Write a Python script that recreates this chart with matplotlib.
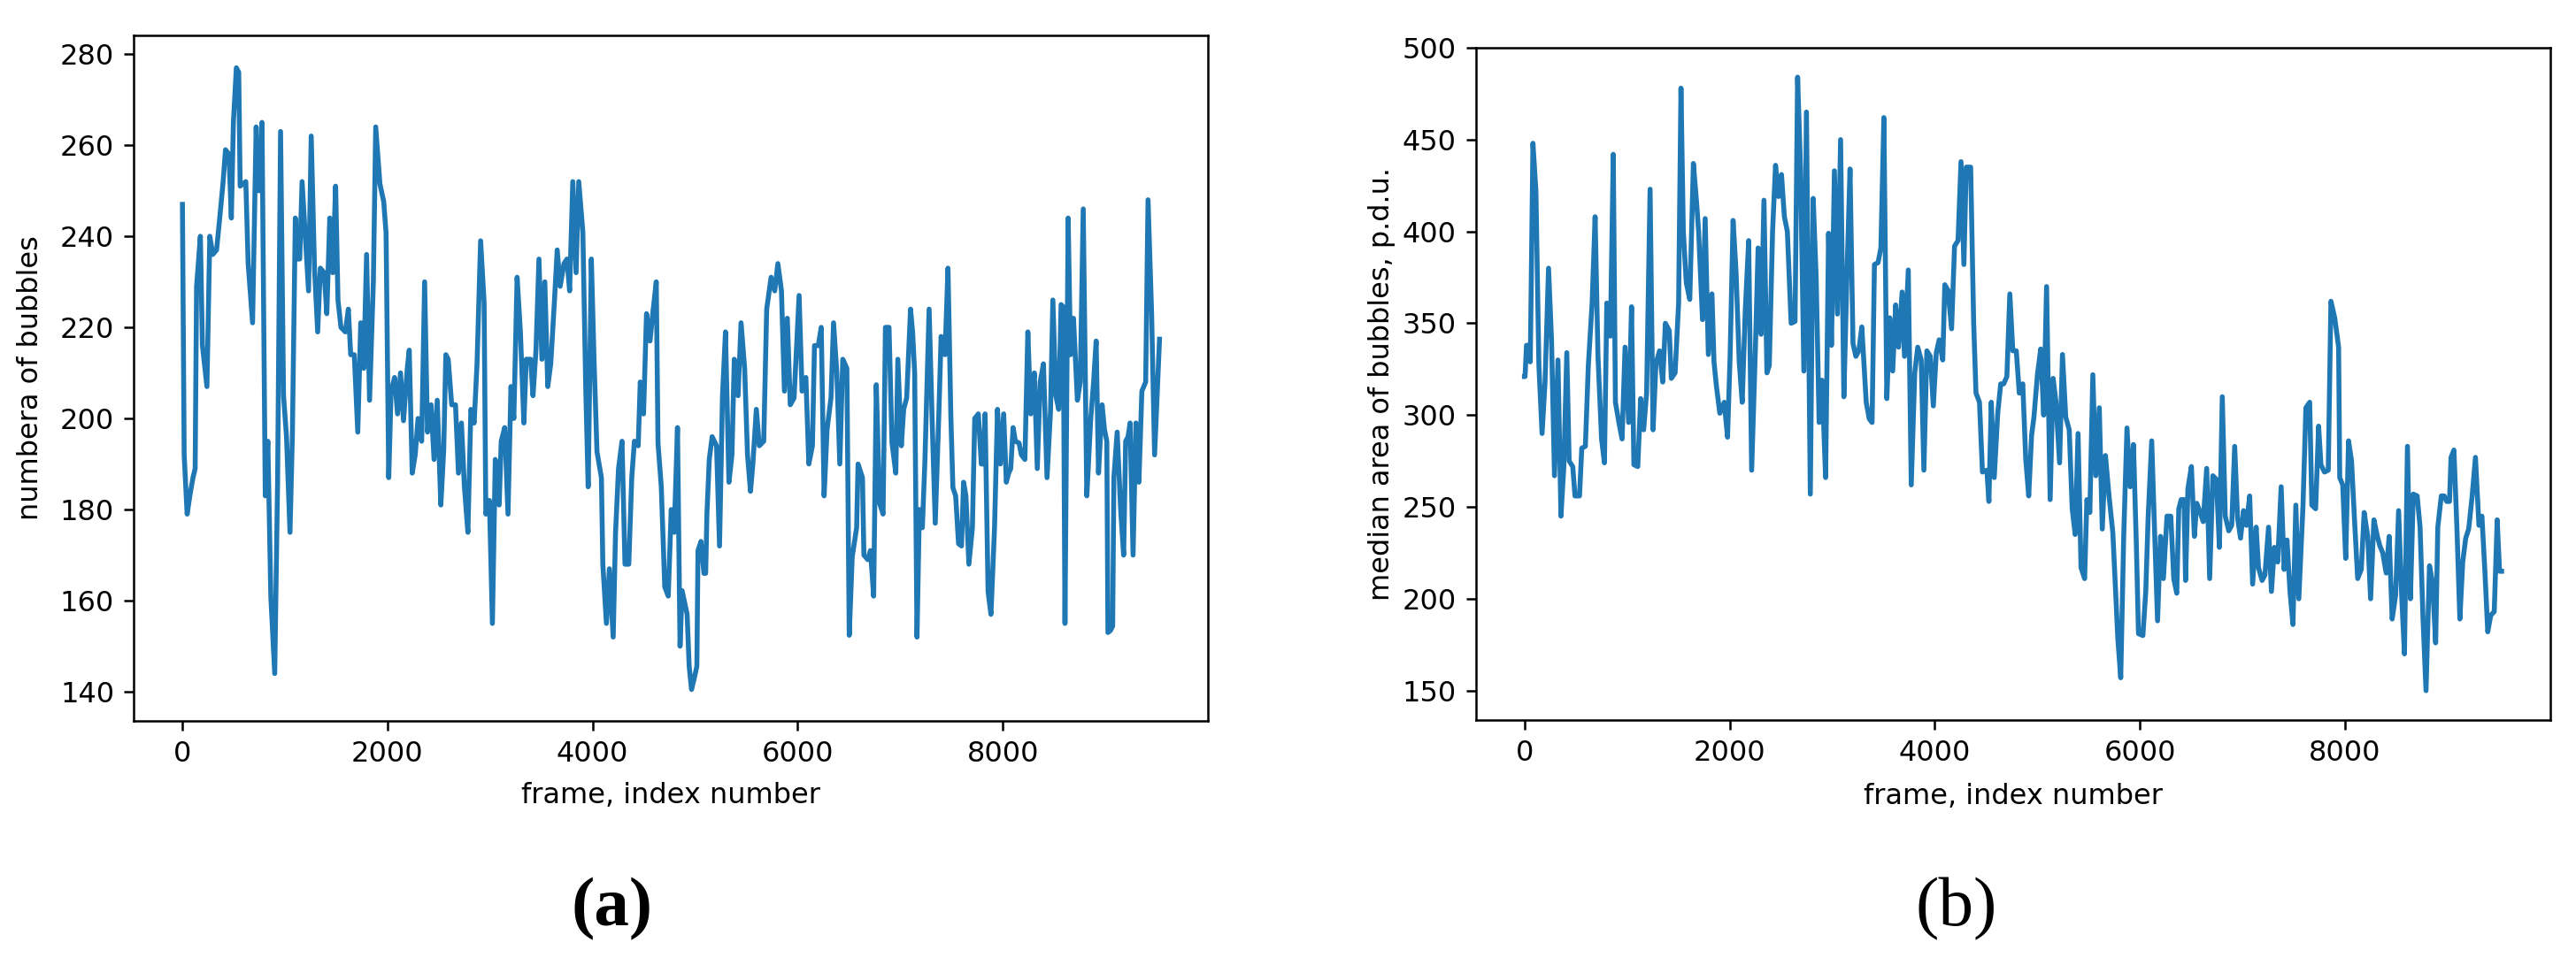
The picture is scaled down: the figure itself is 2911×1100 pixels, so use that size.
import matplotlib
matplotlib.use("Agg")
import matplotlib.pyplot as plt

# ---------------- data ----------------
frames_a = [0, 17, 46, 72, 103, 124, 138, 175, 195, 239, 267, 296, 333, 368, 397, 420, 454, 477, 497, 526,
            549, 563, 618, 641, 684, 719, 742, 756, 776, 808, 833, 862, 900, 928, 957, 986, 1015, 1049, 1072, 1101,
            1124, 1144, 1167, 1193, 1230, 1256, 1288, 1319, 1345, 1382, 1408, 1437, 1466, 1494, 1517, 1546, 1589, 1618, 1641, 1676,
            1710, 1739, 1768, 1796, 1825, 1862, 1885, 1926, 1963, 1986, 2012, 2035, 2069, 2098, 2127, 2156, 2193,
            2212, 2241, 2270, 2298, 2333, 2362, 2390, 2425, 2454, 2485, 2520, 2548, 2569, 2592, 2626, 2663, 2692, 2721, 2750,
            2784, 2813, 2845, 2873, 2908, 2942, 2959, 2994, 3023, 3051, 3089, 3109, 3143, 3175, 3204, 3232, 3264, 3296, 3330,
            3353, 3396, 3419, 3448, 3477, 3506, 3534, 3563, 3592, 3626, 3655, 3684, 3721, 3750, 3776, 3807, 3839, 3865, 3905,
            3934, 3957, 3988, 4014, 4043, 4086, 4100, 4135, 4164, 4201, 4224, 4253, 4287, 4316, 4353, 4382, 4408, 4445, 4465,
            4497, 4526, 4560, 4589, 4621, 4638, 4670, 4704, 4738, 4767, 4796, 4828, 4853,
            4873, 4922, 4942, 4965, 4988, 5017, 5028, 5057, 5086, 5103, 5115, 5138, 5166, 5209, 5238, 5267, 5296, 5330, 5359,
            5382, 5419, 5448, 5483, 5511, 5540, 5563, 5597, 5626, 5669, 5698, 5741, 5776, 5807, 5842, 5871, 5899, 5928, 5965,
            6014, 6043, 6080, 6109, 6144, 6164, 6201, 6230, 6258, 6287, 6325, 6350, 6382, 6411, 6440, 6460, 6480, 6503, 6532,
            6575, 6589, 6632, 6646, 6684, 6710, 6741, 6767, 6799, 6833, 6856, 6891, 6920, 6957, 6977, 7011, 7034, 7063, 7101,
            7121, 7141, 7164, 7187, 7216, 7241, 7282, 7313, 7342, 7379, 7399, 7437, 7466, 7494, 7514,
            7541, 7569, 7598, 7618, 7641, 7670, 7704, 7727, 7762, 7791, 7808, 7828, 7857, 7885, 7920, 7949, 7977, 8009, 8035,
            8058, 8078, 8101, 8124, 8159, 8182, 8216, 8245, 8273, 8308, 8337, 8365, 8397, 8432, 8466, 8489, 8518, 8546, 8569,
            8590, 8607, 8638, 8661, 8690, 8728, 8756, 8785, 8820, 8857, 8886, 8911, 8934, 8969, 8992, 9015, 9026, 9049, 9072,
            9084, 9116, 9150, 9179, 9199, 9222, 9242, 9271, 9299, 9328, 9357, 9394, 9417, 9452, 9481, 9529]

bubble_count = [247, 192, 179, 183, 187, 189, 229, 240, 216, 207, 240, 236, 237, 245, 252, 259, 258, 244, 265, 277,
                276, 251, 252, 234, 221, 264, 250, 250, 265, 183, 195, 161, 144, 186, 263, 205, 196, 175, 196, 244,
                235, 235, 252, 242, 228, 262, 233, 219, 233, 232, 223, 244, 232, 251, 226, 220, 219, 224, 214, 214,
                197, 221, 211, 236, 204, 230, 264, 251.5, 247.6, 240.7, 187, 206, 209, 201, 210, 199.5, 211,
                215, 188, 192, 200, 195, 230, 197, 203, 191, 204, 181, 193, 214, 213, 203, 203, 188, 199, 185,
                175, 202, 199, 212, 239, 225.5, 179, 182, 155, 191, 181, 195, 198, 179, 207, 200, 231, 219, 199,
                213, 213, 205, 215, 235, 213, 230, 207, 212, 225, 237, 229, 234, 235, 228, 252, 232, 252, 241,
                206, 185, 235, 213, 192.7, 187, 168, 155, 167, 152, 175, 189, 195, 168, 168, 187, 195, 194, 208,
                201, 223, 217, 223.5, 230, 194.6, 185, 163, 161, 180, 175, 198, 150,
                162.2, 157, 145.6, 140.5, 142.6, 145.6, 171, 173, 166, 166, 179, 191, 196, 194, 172, 205, 219, 186, 192,
                213, 205, 221, 211, 192, 184, 190, 202, 194, 195, 224, 231, 228, 234, 228, 206, 222, 203, 204.5,
                227, 206, 209, 190, 194, 216, 216, 220, 183, 197.6, 204.5, 221, 210, 190, 213, 212, 211, 152.4, 169.6,
                176, 190, 187, 170, 169, 171, 161, 207.4, 181.4, 179, 220, 220, 194.6, 188, 213, 194, 202, 204.5, 224,
                219, 210, 152, 180, 176, 190.7, 224, 198.5, 177, 202.5, 218, 214, 233, 200.5, 184.8,
                183, 172.5, 172, 186, 183, 168, 176, 200, 201, 190, 190, 201, 162, 157, 176, 202, 190, 201, 186,
                188, 189, 198, 195, 194.6, 192, 191, 219, 201, 210, 189, 208, 212, 187, 201.6, 226, 205, 202, 225,
                224.5, 155, 244, 214, 222, 204, 208, 246, 183, 199.5, 208, 217, 188, 203, 197.6, 195, 153, 153.4, 154.4,
                187, 197, 180, 170, 195, 196, 199, 170, 199, 186, 206, 208, 248, 223, 192, 217.4]

frames_b = [0, 6, 20, 40, 57, 83, 112, 141, 172, 201, 235, 264, 293, 327, 356, 384, 413, 436, 471, 493,
            537, 559, 594, 623, 660, 689, 717, 752, 780, 803, 838, 866, 887, 924, 952, 981, 1016, 1044, 1067, 1105,
            1133, 1162, 1191, 1225, 1254, 1282, 1317, 1348, 1374, 1412, 1432, 1469, 1503, 1526, 1549, 1578, 1612, 1647, 1678,
            1698, 1736, 1762, 1793, 1828, 1848, 1871, 1905, 1948, 1980, 2005, 2034, 2063, 2094, 2123, 2152, 2186, 2215, 2252,
            2278, 2307, 2335, 2364, 2387,
            2419, 2448, 2477, 2506, 2534, 2563, 2600, 2638, 2663, 2692, 2724, 2749, 2787, 2815, 2844, 2873, 2901, 2936, 2965,
            2993, 3022, 3051, 3082, 3114, 3145, 3174, 3203, 3231, 3260, 3289, 3332, 3361, 3389, 3412, 3447, 3475, 3504, 3533,
            3561, 3590, 3619, 3647, 3682, 3705, 3742, 3771, 3805, 3834, 3868, 3894, 3923, 3957, 3986, 4015, 4043, 4078, 4098,
            4129, 4164, 4193, 4227, 4256, 4284, 4307, 4350, 4379, 4402, 4436, 4465, 4508, 4528, 4551, 4580, 4614, 4643, 4672,
            4703, 4732, 4761, 4795, 4824, 4858, 4887, 4916, 4944, 4967,
            5001, 5033, 5062, 5090, 5125, 5154, 5182, 5217, 5245, 5277, 5311, 5340, 5369, 5397, 5426, 5461, 5483, 5512, 5541,
            5570, 5604, 5633, 5664, 5699, 5736, 5785, 5813, 5842, 5874, 5905, 5937, 5965, 5986, 6029, 6057, 6080, 6115, 6143,
            6172, 6201, 6229, 6264, 6301, 6330, 6359, 6379, 6402, 6430, 6445, 6468, 6502, 6531, 6554, 6588, 6617, 6651, 6680,
            6711, 6746, 6775, 6803, 6832, 6866, 6895, 6924, 6952, 6981, 7010, 7038, 7070, 7099, 7133, 7156, 7191, 7219, 7254,
            7282, 7311, 7343, 7377, 7406, 7434, 7463, 7492, 7520, 7549,
            7590, 7618, 7655, 7676, 7713, 7742, 7765, 7799, 7836, 7862, 7899, 7937, 7948, 7977, 8006, 8034, 8063, 8092, 8123,
            8158, 8186, 8221, 8249, 8281, 8315, 8338, 8367, 8401, 8430, 8459, 8493, 8522, 8553, 8579, 8608, 8637, 8665, 8703,
            8731, 8760, 8789, 8823, 8852, 8883, 8904, 8938, 8967, 8990, 9018, 9033, 9061, 9090, 9119, 9147, 9176, 9205, 9239,
            9271, 9305, 9334, 9363, 9391, 9420, 9454, 9483, 9506, 9526]

median_area = [321, 321, 338, 338, 329, 448, 422, 327, 290, 318, 380, 341, 267, 330, 245, 272, 334, 275, 272, 256,
               256, 282, 283, 327, 361, 408, 332, 287, 274, 361, 343, 442, 307, 295, 287, 337, 296, 359, 273, 272,
               309, 292, 312, 423, 292, 328, 335, 318, 350, 346, 320, 323, 361, 478, 400, 372, 363, 437, 416,
               400, 352, 407, 333, 366, 329, 316, 301, 307, 288, 332, 406, 378, 329, 307, 356, 395, 270, 337,
               391, 344, 417, 323, 327,
               400, 436, 419, 431, 408, 400, 350, 351, 484, 434, 324, 465, 257, 418, 375, 296, 319, 266, 399,
               338, 433, 355, 450, 310, 378, 434, 339, 332, 335, 348, 307, 298, 296, 382, 383, 391, 462, 309,
               353, 324, 360, 337, 367, 332, 379, 262, 323, 337, 330, 270, 335, 332, 305, 334, 341, 330, 371,
               368, 347, 392, 395, 438, 382, 435, 435, 351, 312, 307, 269, 270, 253, 307, 266, 301, 317, 317,
               321, 366, 335, 335, 312, 317, 276, 256, 289, 299,
               322, 336, 300, 370, 254, 320, 307, 274, 333, 299, 292, 249, 235, 290, 217, 211, 254, 247, 322,
               267, 304, 238, 278, 256, 236, 178, 157, 234, 293, 261, 284, 230, 181, 180, 204, 244, 286, 237,
               188, 234, 211, 245, 245, 211, 203, 249, 254, 254, 210, 260, 272, 234, 252, 247, 242, 271, 211,
               267, 265, 228, 310, 245, 237, 240, 283, 244, 233, 248, 240, 256, 208, 239, 217, 210, 213, 239,
               204, 228, 220, 261, 216, 232, 204, 186, 251, 200,
               251, 304, 307, 251, 249, 294, 273, 269, 270, 362, 353, 337, 266, 262, 222, 286, 275, 243, 211,
               216, 247, 234, 200, 243, 234, 229, 225, 214, 234, 189, 202, 248, 200, 170, 283, 200, 257, 256,
               239, 189, 150, 218, 209, 176, 239, 256, 256, 253, 253, 277, 281, 239, 189, 220, 233, 238, 256,
               277, 240, 245, 215, 182, 191, 193, 243, 215, 215]

xticks = [0, 2000, 4000, 6000, 8000]
yticks_a = [140, 160, 180, 200, 220, 240, 260, 280]
yticks_b = [150, 200, 250, 300, 350, 400, 450, 500]

xlabel = "frame, index number"
ylabel_a = "numbera of bubbles"
ylabel_b = "median area of bubbles, p.d.u."
panel_labels = ["(a)", "(b)"]

# ---------------- styling ----------------
S = 2.25  # scale factor relative to matplotlib defaults
plt.rcParams.update({
    "font.family": ["DejaVu Sans"],
    "font.size": 23,
    "axes.linewidth": 0.8 * S,
    "xtick.major.width": 0.8 * S,
    "ytick.major.width": 0.8 * S,
    "xtick.major.size": 3.5 * S,
    "ytick.major.size": 3.5 * S,
    "xtick.major.pad": 3.5 * S,
    "ytick.major.pad": 3.5 * S,
})

fig = plt.figure(figsize=(29.11, 11), dpi=100)
ax1 = fig.add_axes([151 / 2911, 1 - 815 / 1100, 1214 / 2911, 775 / 1100])
ax2 = fig.add_axes([1667.5 / 2911, 1 - 814 / 1100, 1214.5 / 2911, 760 / 1100])

color = "#1f77b4"
ax1.plot(frames_a, bubble_count, color=color, lw=4.0)
ax2.plot(frames_b, median_area, color=color, lw=4.0)

for ax, yt, yl in [(ax1, yticks_a, ylabel_a), (ax2, yticks_b, ylabel_b)]:
    ax.set_xticks(xticks)
    ax.set_yticks(yt)
    ax.set_xlim(-476, 10001)
    ax.set_xlabel(xlabel)
    ax.set_ylabel(yl)

ax1.set_ylim(133.6, 284.1)
ax2.set_ylim(134, 500)

ax1.xaxis.set_label_coords(0.5, -0.089)
ax2.xaxis.set_label_coords(0.5, -0.093)
ax1.yaxis.set_label_coords(-0.083, 0.5)
ax2.yaxis.set_label_coords(-0.0745, 0.5)

fig.text(692 / 2911, 1 - 1028 / 1100, panel_labels[0], ha="center", va="center",
         fontsize=57, fontweight="bold", family=["Liberation Serif", "DejaVu Serif"])
fig.text(2211 / 2911, 1 - 1028 / 1100, panel_labels[1], ha="center", va="center",
         fontsize=57, family=["Liberation Serif", "DejaVu Serif"])

fig.savefig("out.png", dpi=100)
